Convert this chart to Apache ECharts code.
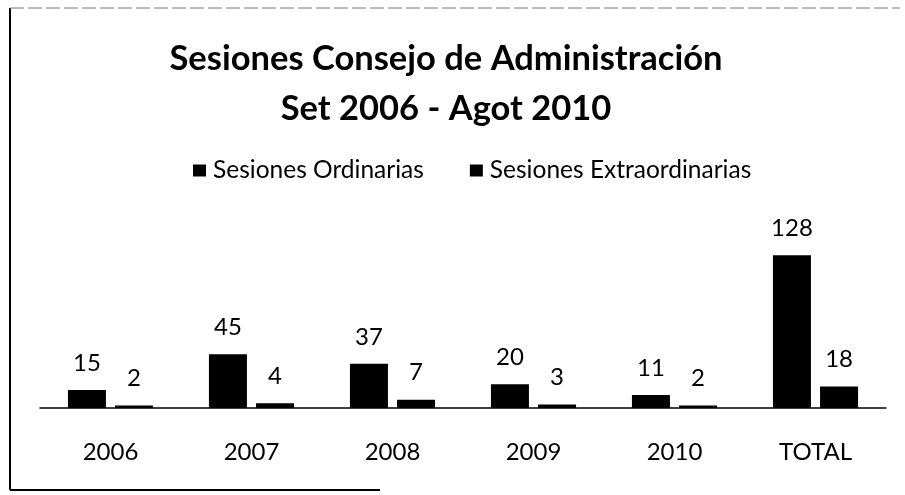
<!DOCTYPE html>
<html>
<head>
<meta charset="utf-8">
<script src="https://cdn.jsdelivr.net/npm/echarts@6/dist/echarts.min.js"></script>
<style>
  html, body { margin: 0; padding: 0; background: #fff; }
  #chart { width: 905px; height: 495px; }
</style>
</head>
<body>
<div id="chart"></div>
<script>
  var categories = ['2006', '2007', '2008', '2009', '2010', 'TOTAL'];
  var ordinarias = [15, 45, 37, 20, 11, 128];
  var extraordinarias = [2, 4, 7, 3, 2, 18];
  var seriesNames = ['Sesiones Ordinarias', 'Sesiones Extraordinarias'];

  var font = 'Lato, "Open Sans", sans-serif';
  var myChart = echarts.init(document.getElementById('chart'));

  var barLabel = {
    show: true,
    position: 'top',
    distance: 15,
    color: '#000',
    fontSize: 24,
    fontFamily: font
  };

  myChart.setOption({
    animation: false,
    backgroundColor: '#fff',
    title: {
      text: 'Sesiones Consejo de Administración\nSet 2006 - Agot 2010',
      left: 441,
      top: 29,
      textAlign: 'center',
      textStyle: { color: '#000', fontSize: 34.5, lineHeight: 50, fontWeight: 'bold', fontFamily: font }
    },
    legend: {
      data: seriesNames,
      left: 188,
      top: 153,
      icon: 'rect',
      itemWidth: 13,
      itemHeight: 12,
      itemGap: 46,
      textStyle: { color: '#000', fontSize: 24.5, fontFamily: font, padding: [0, 0, 0, 2] }
    },
    grid: { left: 40, right: 19, top: 241, bottom: 87 },
    xAxis: {
      type: 'category',
      data: categories,
      axisLine: { lineStyle: { color: '#000', width: 1.5 } },
      axisTick: { show: false },
      axisLabel: { color: '#000', fontSize: 24, fontFamily: font, margin: 32 }
    },
    yAxis: {
      type: 'value',
      min: 0,
      max: 140,
      show: false,
      splitLine: { show: false }
    },
    series: [
      {
        name: seriesNames[0],
        type: 'bar',
        data: ordinarias,
        barWidth: 38,
        barGap: '24%',
        itemStyle: { color: '#000' },
        label: barLabel
      },
      {
        name: seriesNames[1],
        type: 'bar',
        data: extraordinarias,
        barWidth: 38,
        itemStyle: { color: '#000' },
        label: barLabel
      }
    ],
    graphic: [
      { type: 'line', shape: { x1: 10, y1: 8, x2: 10, y2: 490 }, style: { stroke: '#000', lineWidth: 2 } },
      { type: 'line', shape: { x1: 10, y1: 8, x2: 900, y2: 8 }, style: { stroke: '#777', lineWidth: 1, lineDash: [14, 4] } },
      { type: 'line', shape: { x1: 10, y1: 490, x2: 380, y2: 490 }, style: { stroke: '#000', lineWidth: 2 } }
    ]
  });
</script>
</body>
</html>
